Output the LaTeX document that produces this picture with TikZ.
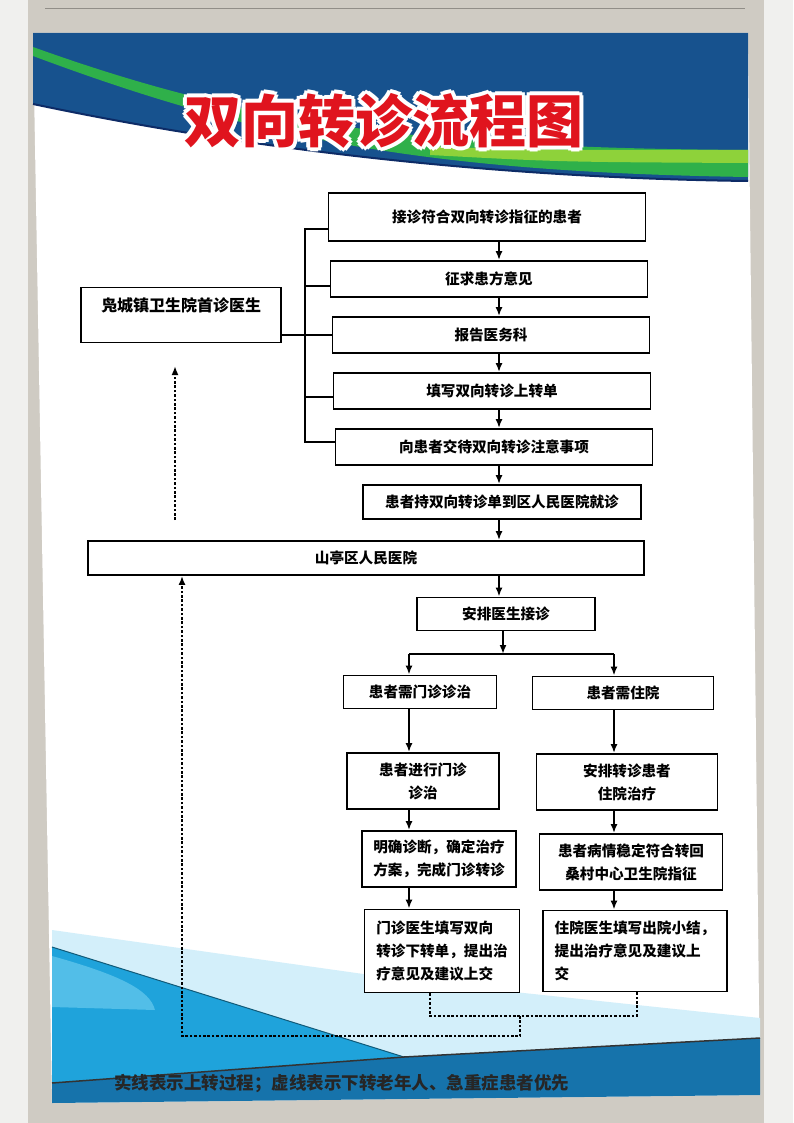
\documentclass[tikz,border=0pt]{standalone}
\usepackage{fontspec}
\usepackage{tikz}
\usetikzlibrary{arrows.meta}

\newfontfamily\cjk{Noto Sans CJK SC}

\definecolor{framegrey}{HTML}{CFCBC3}
\definecolor{wallwhite}{HTML}{F0F0EE}
\definecolor{bannerblue}{HTML}{17528E}
\definecolor{bannernavy}{HTML}{0D2B66}
\definecolor{stripegreen}{HTML}{2FB04A}
\definecolor{stripelight}{HTML}{8ED23A}
\definecolor{titlered}{HTML}{E0141E}
\definecolor{washcyan}{HTML}{D3EFFA}
\definecolor{wavelight}{HTML}{52BEE8}
\definecolor{wavemid}{HTML}{1FA3DB}
\definecolor{banddark}{HTML}{1673AB}

\begin{document}
\begin{tikzpicture}[
    x = 1pt,
    y = -1pt,
    line width = 1.8pt,
    >= {Latex[length = 9pt, width = 7pt]},
    stepbox/.style = {draw, fill = white,
      font = \cjk\bfseries\fontsize{14.6}{23}\selectfont,
      inner sep = 0pt, align = center},
    boxsize/.style 2 args = {minimum width = #1, minimum height = #2},
    titletext/.style = {font = \cjk\bfseries\fontsize{57}{57}\selectfont},
    dotline/.style = {line width = 2.6pt,
      dash pattern = on 2.6pt off 1.8pt},
    ]

    \useasboundingbox (0, 0) rectangle (793, 1123);

    % frame and poster
    \fill [framegrey] (0, 0) rectangle (793, 1123);
    \fill [wallwhite] (0, 0) rectangle (28, 1123);
    \fill [wallwhite] (764, 0) rectangle (793, 1123);
    \draw [framegrey!70!black, line width = 1pt] (45, 9) -- (745, 9);
    \fill [white] (33, 33) -- (748, 33) -- (760, 1095) -- (52, 1103) -- cycle;

    % top banner
    \fill [bannerblue] (33, 33) -- (748, 33) -- (748, 181)
    .. controls (500, 178) and (250, 150) .. (33, 104) -- cycle;
    \fill [stripegreen] (33, 47) .. controls (250, 125) and (420, 148) .. (748, 150)
    -- (748, 177) .. controls (420, 172) and (250, 137) .. (33, 56) -- cycle;
    \fill [stripelight] (430, 147) .. controls (560, 150) .. (748, 150)
    -- (748, 163) .. controls (560, 162) .. (430, 155) -- cycle;
    \draw [bannernavy, line width = 2pt] (748, 181)
    .. controls (500, 178) and (250, 150) .. (33, 104);

    % bottom wave
    \fill [washcyan] (52, 930) -- (420, 982) -- (760, 1018) -- (760, 1040)
    -- (404, 1057) -- (52, 1083) -- cycle;
    \fill [wavemid] (52, 947) -- (404, 1057) -- (52, 1083) -- cycle;
    \fill [wavelight] (52, 956) .. controls (120, 975) and (150, 990) .. (155, 1010)
    -- (52, 1007) -- cycle;
    \draw [wavemid!55!black, line width = 1pt] (52, 947) -- (404, 1057);
    \fill [banddark] (52, 1083) -- (404, 1057) -- (760, 1038) -- (760, 1095)
    -- (52, 1103) -- cycle;
    \draw [black!80, line width = 1.5pt] (52, 1083) -- (404, 1057) -- (760, 1038);

    % title with white outline
    \foreach \ang in {0, 45, ..., 315}
    \node at (384, 121) [titletext, white, shift = {(\ang: 4)}, name = title-\ang]
    {双向转诊流程图};
    \node at (384, 121) [titletext, titlered, name = title] {双向转诊流程图};

    % boxes
    \node at (181, 315) [stepbox, boxsize = {200}{55},
      font = \cjk\bfseries\fontsize{16}{16}\selectfont, name = township]
    {凫城镇卫生院首诊医生\\\strut};

    \node at (487, 217) [stepbox, boxsize = {317}{48}, name = accept]
    {接诊符合双向转诊指征的患者};
    \node at (489, 279) [stepbox, boxsize = {317}{36}, name = consult]
    {征求患方意见};
    \node at (491, 335) [stepbox, boxsize = {317}{36}, name = report]
    {报告医务科};
    \node at (492, 391) [stepbox, boxsize = {317}{36}, name = upform]
    {填写双向转诊上转单};
    \node at (494, 447) [stepbox, boxsize = {317}{36}, name = notice]
    {向患者交待双向转诊注意事项};
    \node at (502, 502) [stepbox, boxsize = {278}{34}, name = visit]
    {患者持双向转诊单到区人民医院就诊};

    \node at (366, 558) [stepbox, boxsize = {556}{34}, name = county]
    {山亭区人民医院};
    \node at (506, 614) [stepbox, boxsize = {178}{33}, name = arrange]
    {安排医生接诊};

    \node at (420, 692) [stepbox, boxsize = {153}{33}, name = outpat]
    {患者需门诊诊治};
    \node at (623, 693) [stepbox, boxsize = {181}{33}, name = inpat]
    {患者需住院};
    \node at (423, 781) [stepbox, boxsize = {152}{56}, name = optreat]
    {患者进行门诊\\诊治};
    \node at (627, 782) [stepbox, boxsize = {181}{56}, name = iptreat]
    {安排转诊患者\\住院治疗};
    \node at (439, 859) [stepbox, boxsize = {154}{56}, name = opdiag]
    {明确诊断，确定治疗\\方案，完成门诊转诊};
    \node at (631, 862) [stepbox, boxsize = {183}{56}, name = ipstable]
    {患者病情稳定符合转回\\桑村中心卫生院指征};
    \node at (442, 951) [stepbox, boxsize = {155}{83}, align = left, name = opform]
    {门诊医生填写双向\\转诊下转单，提出治\\疗意见及建议上交};
    \node at (635, 951) [stepbox, boxsize = {184}{81}, align = left, name = ipform]
    {住院医生填写出院小结，\\提出治疗意见及建议上\\交};

    \node at (110, 1083) [anchor = west, text = black!85,
      font = \cjk\bfseries\fontsize{17.5}{18}\selectfont, name = note]
    {实线表示上转过程；虚线表示下转老年人、急重症患者优先};

    % connectors
    \coordinate (axis) at (499, 0);
    \coordinate (bracket) at (305, 0);
    \coordinate (split) at (503, 654);
    \coordinate (lcol) at (409, 0);
    \coordinate (rcol) at (614, 0);

    \draw ([yshift = -12pt]accept.west) -| ([yshift = 5pt]notice.west -| bracket)
    -- ([yshift = 5pt]notice.west);
    \draw ([yshift = -7pt]consult.west) -- ([yshift = -7pt]consult.west -| bracket);
    \draw ([yshift = -6pt]upform.west) -- ([yshift = -6pt]upform.west -| bracket);
    \draw (township.east |- report.west) -- (report.west);

    \draw [->] (accept.south -| axis) -- (consult.north -| axis);
    \draw [->] (consult.south -| axis) -- (report.north -| axis);
    \draw [->] (report.south -| axis) -- (upform.north -| axis);
    \draw [->] (upform.south -| axis) -- (notice.north -| axis);
    \draw [->] (notice.south -| axis) -- (visit.north -| axis);
    \draw [->] (visit.south -| axis) -- (county.north -| axis);
    \draw [->] (county.south -| axis) -- (arrange.north -| axis);

    \draw [->] (arrange.south -| split) -- (split);
    \draw (split -| lcol) -- (split -| rcol);
    \draw [->] (split -| lcol) -- (outpat.north -| lcol);
    \draw [->] (split -| rcol) -- (inpat.north -| rcol);

    \draw [->] (outpat.south -| lcol) -- (optreat.north -| lcol);
    \draw [->] (optreat.south -| lcol) -- (opdiag.north -| lcol);
    \draw [->] (opdiag.south -| lcol) -- (opform.north -| lcol);
    \draw [->] (inpat.south -| rcol) -- (iptreat.north -| rcol);
    \draw [->] (iptreat.south -| rcol) -- (ipstable.north -| rcol);
    \draw [->] (ipstable.south -| rcol) -- (ipform.north -| rcol);

    % dotted return paths
    \coordinate (dl) at (430, 1016);
    \coordinate (dr) at (637, 1016);
    \coordinate (dm) at (520, 1016);
    \coordinate (dbot) at (520, 1036);
    \coordinate (dleft) at (182, 1036);
    \coordinate (upfrom) at (175, 520);
    \coordinate (upto) at (175, 366);

    \draw [dotline] (opform.south -| dl) -- (dl) -- (dr) -- (ipform.south -| dr);
    \draw [dotline, ->] (dm) -- (dbot) -- (dleft) -- (dleft |- county.south);
    \draw [dotline, ->] (upfrom) -- (upto);

  \end{tikzpicture}
\end{document}
